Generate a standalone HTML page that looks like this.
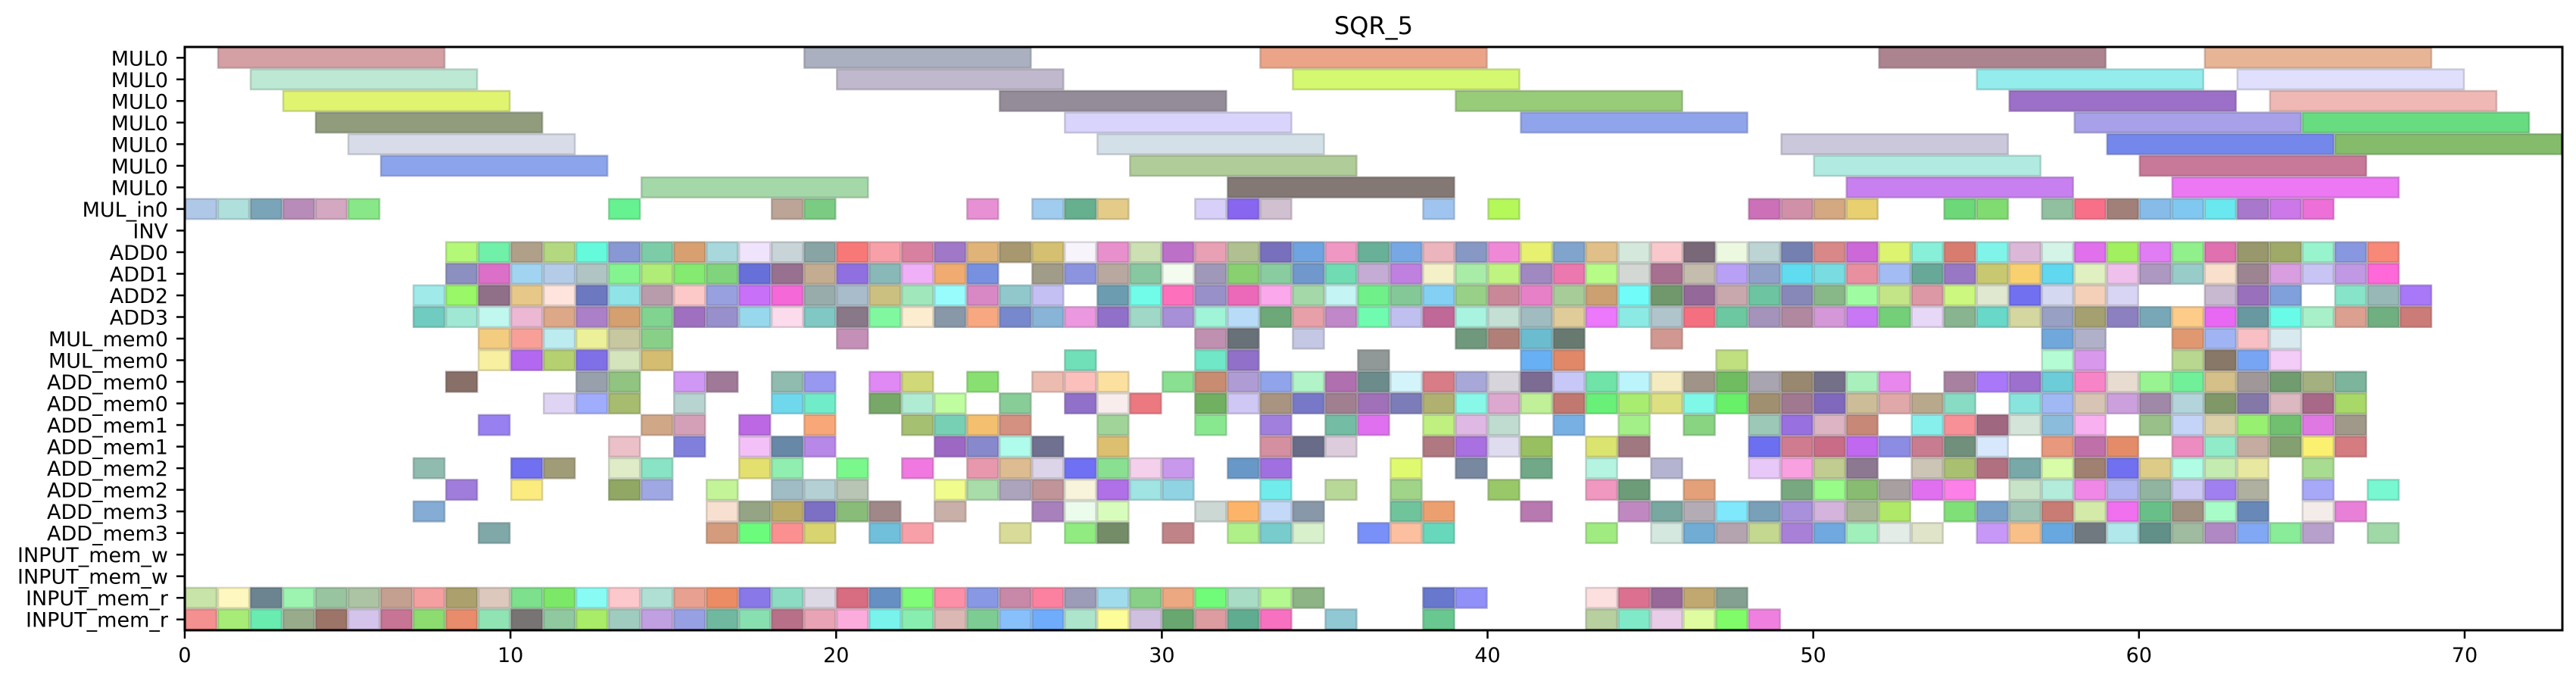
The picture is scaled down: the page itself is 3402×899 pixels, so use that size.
<!DOCTYPE html>
<html><head><meta charset="utf-8"><title>SQR_5</title>
<style>
html,body{margin:0;padding:0;background:#fff;}
svg{display:block;font-family:"DejaVu Sans","Liberation Sans",sans-serif;}
</style></head>
<body>
<svg id="chart" width="3402" height="899" viewBox="0 0 3402 899" xmlns="http://www.w3.org/2000/svg">
<text x="1814" y="45" font-size="32" text-anchor="middle" fill="#000">SQR_5</text>
<g id="marks"></g>
<g id="axes"></g>
</svg>
<script>
const rowLabels = ["MUL0","MUL0","MUL0","MUL0","MUL0","MUL0","MUL0","MUL_in0","INV","ADD0","ADD1","ADD2","ADD3","MUL_mem0","MUL_mem0","ADD_mem0","ADD_mem0","ADD_mem1","ADD_mem1","ADD_mem2","ADD_mem2","ADD_mem3","ADD_mem3","INPUT_mem_w","INPUT_mem_w","INPUT_mem_r","INPUT_mem_r"];
const xTicks = [0,10,20,30,40,50,60,70];
const xMax = 73;
const mulDuration = 7;
const cellDuration = 1;
// MUL0 long ops: "start:color"
const mulRows = [
"1:d4a0a4 19:aab0c0 33:eca488 52:ac8490 62:e8b496",
"2:bce8d4 20:c0b8cc 34:d4f870 55:94ecec 63:e0e0fc",
"3:e0f470 25:948c98 39:98cc78 56:9c70c8 64:f0b8b4",
"4:909c7c 27:d8d4fc 41:90a4ec 58:a8a0e8 65:68dc80",
"5:d8dce8 28:d4e0e8 49:ccc8dc 59:7488ec 66:84bc6c",
"6:8ca4ec 29:b0cc98 50:b0eae0 60:c87898",
"14:a4d8a8 32:847874 51:c880f0 61:ec78f4"
];
// unit ops per row (rows 7..26): "start:color"
const cellRows = [
"0:b0c8e8 1:b0e0dc 2:7aa4b8 3:b88cb8 4:d4a8c0 5:88e888 13:66f290 18:bca496 19:7acc82 24:e890d4 26:a0ccf0 27:66b090 28:e4cc88 31:d8d0f8 32:8866f0 33:d0c0d0 38:a0c4f0 40:b4f85a 48:cc70b8 49:d090a8 50:d4a880 51:e8d070 54:6cd878 55:80dc70 57:90c0a0 58:f87088 59:a08078 60:88bce8 61:80c8f0 62:6ae8f0 63:a878cc 64:cc78e8 65:ec70d8",
"",
"8:b4f878 9:70f0a8 10:b0a08a 11:b4d880 12:66fadc 13:8898d4 14:7ccca8 15:d8a070 16:a8d8dc 17:f0e4fc 18:c8d4d8 19:88a4a4 20:f87878 21:f8a0a8 22:d880a0 23:a078c8 24:e0b478 25:a89870 26:d4c070 27:f8f4fc 28:e890cc 29:cce0b4 30:bc70c8 31:e8a0b4 32:b0c090 33:7870bc 34:70a4e0 35:f098c4 36:68b098 37:78a8e4 38:ecb4bc 39:8898c4 40:f088d8 41:e8f070 42:80a4cc 43:e0c088 44:d4e8dc 45:f8c8cc 46:786878 47:ecf8e0 48:bcd4d4 49:7480b0 50:d88888 51:cc68d8 52:dcf470 53:88f0d8 54:d87c70 55:80f4e8 56:dcb8d8 57:d4f4e8 58:e070ec 59:a0f060 60:e07cf4 61:90f08c 62:e070b0 63:98986c 64:a0aa68 65:98f4cc 66:8898e0 67:f88878",
"8:8c90c0 9:dc70c8 10:a0d4f0 11:b4cce8 12:b0c4c4 13:84f490 14:b0ec78 15:84ea70 16:80d47c 17:6670d8 18:987090 19:c4ac90 20:9070e0 21:88b8b8 22:f0b0f8 23:f0ac70 24:7890e0 26:a09c88 27:8c94e0 28:b8a8a0 29:88c8a0 30:f4fcf0 31:a098b8 32:88d070 33:88cca0 34:7098cc 35:70dcb4 36:c4acd4 37:c080e0 38:f4f0c8 39:a8eca8 40:c0f480 41:a088c0 42:ec78b0 43:b8fc88 44:d4d8d4 45:a87090 46:c4bcac 47:b8a0f4 48:90a0c8 49:60dcf0 50:78dce0 51:e890a0 52:a4bcf4 53:68a898 54:9878c4 55:c8c870 56:f8d070 57:60d8f0 58:e0f0c0 59:f0c0ec 60:ac98c0 61:98ccc8 62:f8e0cc 63:9c8490 64:d89ee0 65:c8c4f4 66:c098e4 67:ff68d8",
"7:a0eaea 8:98f868 9:907088 10:e8c888 11:fee4dc 12:6c78c0 13:90e4e8 14:b89cac 15:fcc8c8 16:98a0e0 17:c870f8 18:f468d8 19:98acac 20:a8bccc 21:ccc080 22:a0e8bc 23:98fcfc 24:d888c4 25:90c8cc 26:c4c0f4 28:6c9cb0 29:70fce8 30:fc70bc 31:9890c8 32:ec68b8 33:fca8ec 34:a4d8a8 35:c4f4f4 36:70f088 37:84c898 38:84d0f4 39:98d088 40:c88898 41:e880c8 42:a8cc98 43:cca070 44:70fcf8 45:70986c 46:946898 47:c8a8ac 48:6cc4a0 49:8888b8 50:88b888 51:a0fca0 52:c4e488 53:dc98a4 54:ccf880 55:e0e8d0 56:7070f0 57:d4d8f0 58:f4d0b8 59:d8d4f4 62:c8b8d0 63:9870bc 64:80a0dc 66:88e4c8 67:98b8b8 68:a878f8",
"7:70ccc0 8:a0e8d4 9:c0f8f0 10:ecb8d4 11:dca888 12:ac80c8 13:d4a070 14:80d490 15:a070c0 16:9890cc 17:98d8ec 18:fcdcec 19:80c8c4 20:887888 21:80f8a0 22:fcecd0 23:8898a8 24:f8a880 25:7888cc 26:88b4d8 27:ec98e0 28:9070c8 29:a0d8c8 30:a890d8 31:a0f4d8 32:b8dcf8 33:6ca878 34:e8a0a8 35:c088c8 36:70fcb0 37:c0c0f0 38:c06898 39:a8f4e0 40:c4e0d4 41:a0bcc0 42:e0cc98 43:ec78fc 44:8ceae4 45:b0c4cc 46:f47080 47:6cc8a0 48:a494bc 49:b088a0 50:d498d8 51:c878f4 52:74d078 53:e8d8f8 54:88b490 55:68d8c8 56:d4d8a0 57:98a0c4 58:a4a070 59:8c80c0 60:78a8b8 61:fccc88 62:e868f4 63:6898a0 64:68fce8 65:a8f0c8 66:dca090 67:70b080 68:cc7c78",
"9:f4cc80 10:f8a098 11:bcecf0 12:ecf098 13:c8c8a0 14:88d088 20:c490b8 31:c090b0 32:687078 34:c4c8e4 39:70987c 40:b08078 41:6cbcd0 42:687a70 45:d09890 57:70a8dc 58:b0b0c8 61:e09870 62:a0b4f4 63:f8c0c4 64:d8eaf0",
"9:f8f0a0 10:b468f0 11:b4d070 12:8070e8 13:d4e4bc 14:d4bc70 27:70e0b8 31:70e8c8 32:9070c8 36:909898 41:68b0f4 42:e08868 47:c0e080 57:b4fcd4 58:d898ec 61:b8d890 62:887868 63:78a4f4 64:f4ccf8",
"8:887068 12:98a0ac 13:90c480 15:d098f4 16:a07898 18:90bcb0 19:9898f0 21:e088f4 22:d0d878 24:88e070 26:ecbcb0 27:fcc0bc 28:fce0a0 30:88e090 31:c88c70 32:b09cd4 33:90a4ec 34:b0f4c8 35:b070b0 36:6c8c8c 37:d4f4fc 38:d87c88 39:a8a8d8 40:d8d4dc 41:7c6c94 42:c8c8f8 43:70e4a8 44:bcf4fc 45:f4ecc0 46:a09488 47:70bc60 48:a8a4b0 49:988870 50:747088 51:a8f0bc 52:e888ec 54:a880a0 55:a878f8 56:9c70cc 57:6cccd8 58:f884c8 59:e8dcd0 60:98f490 61:70f098 62:d4c088 63:a09898 64:709c70 65:a4b080 66:7cb49c",
"11:e0d4f4 12:a0acfc 13:a8bc70 15:b8d4d0 18:70d8ec 19:70ecc8 21:78a868 22:b0ecd4 23:c0fca0 25:88cc98 27:9070c8 28:f8ecec 29:ec7880 31:70b060 32:d0c8f4 33:a89480 34:7878c8 35:a08090 36:a070b8 37:7c7cb8 38:b0b070 39:88f8e8 40:dca8d0 41:c0f098 42:c07870 43:68f078 44:a8ec70 45:dce080 46:80f8e8 47:68f068 48:a09070 49:a07890 50:8068bc 51:ccbc98 52:e0a8a8 53:b8a88c 54:88dcc4 56:88e4dc 57:a0b8f4 58:d8c4b4 59:cca0dc 60:a088a8 61:b4d4dc 62:809868 63:8478a8 64:dcb8c0 65:a86888 66:a8d868",
"9:9880f0 14:d0a888 15:d4a0b8 17:bc68e4 19:f8a878 22:a4c070 23:78d0b4 24:f4c070 25:d49080 28:a0d498 31:88e890 33:a080dc 35:74bca4 36:e070f0 38:c0f080 39:e0b8e4 40:c0dcd0 42:78b0e4 44:a4f088 46:88d480 48:9cc8b8 49:9870e0 50:dcb4c4 51:c88878 53:88f0ec 54:f89098 55:a06880 56:d4e4d8 57:8cbcdc 58:f8b0f0 60:98c088 61:c4d4f8 62:dcd0a8 63:98f070 64:70c070 65:e078e4 66:a09888",
"13:ecc0c8 15:8080dc 17:f4c0f8 18:6888a8 19:b888e8 23:9c68c4 24:8888cc 25:b0fcec 26:707090 28:dcc070 33:d490a0 34:686c88 35:dcccdc 38:b07880 39:a870e0 40:e0dcf0 41:98c060 43:dce470 44:a07880 48:6c70f0 49:d07c90 50:c86c88 51:c068f0 52:8c8ce4 53:c87c90 54:70907c 55:d8e8fc 57:e8987c 58:c070a8 59:e48c68 61:ec8cc0 62:90ecc8 63:c4aca0 64:84a070 65:fcf070 66:d47c80",
"7:90bcb0 10:7070f0 11:a09c78 13:e0ecc8 14:88e4c4 17:e4e070 18:90eeb0 20:7af88c 22:f078e0 24:e898ac 25:dcbc90 26:dcd4e8 27:7070f4 28:88e090 29:f4d0ec 30:c898ec 32:6898c8 33:a070e0 37:e0fa70 39:7888a0 41:70a888 43:b4f4e0 45:b4b4d0 48:e8c8f8 49:f8a0e0 50:c0cc90 51:8c7890 53:ccc4b4 54:a8c070 55:b07080 56:78a8a8 57:d8fca8 58:a08070 59:7070f0 60:dccc88 61:b0fce4 62:c4ecb0 63:e8e8a0 65:a8dc90",
"8:a07cdc 10:fcec80 13:90a864 14:a0a8e4 16:c4f498 18:a0bcc4 19:b4d0d4 20:b8c4b4 23:f0fc8c 24:a8dca8 25:aca4bc 26:c09498 27:f8f4dc 28:b070e8 29:a0e4e4 30:90d4e4 33:70ecec 35:b8d898 37:a0d488 40:98c868 43:f098c0 44:6c9c78 46:e4a078 49:78a880 50:98fc88 51:88bc70 52:a8a0a0 53:e070f0 54:fc80e8 56:c8e4c8 57:b4ecdc 58:f088e8 59:b0b4f0 60:90b4a0 61:ccc8f4 62:a080f0 63:b0b0a0 65:a8a8f8 67:78f8d0",
"7:84acd4 16:f8e0d0 17:94a484 18:bcac68 19:7c70c4 20:88bc78 21:a08888 23:c8b0a8 26:a880bc 27:ecfcec 28:d8fcbc 31:ccd8d4 32:fcb468 33:c4d8f8 34:8898a8 37:70c49c 38:eca070 41:b878b0 44:c088c0 45:78a8a0 46:b4acb4 47:80e8fc 48:78a0b8 49:a890dc 50:d4b4dc 51:a8b498 52:b0e868 54:80e078 55:78a0c8 56:a0c4b4 57:c87c74 58:d4eaa8 59:f070f0 60:68c088 61:a09080 62:a8fcc8 63:6888b8 65:f4ece8 66:e880d8",
"9:80a8a8 16:d49c7c 17:6cfc7c 18:fc9090 19:d8d470 21:70c0dc 22:f8a0a8 25:d8dc98 27:90ec80 28:748c68 30:c08488 32:b0f088 33:78cccc 34:d8f0cc 36:7890f8 37:fcc0a0 38:68d8bc 43:a0ec80 45:d4e8e0 46:70acd4 47:b4a4b0 48:c4d890 49:a880d8 50:70a8e0 51:a0f0bc 52:e4ece8 53:e0e4c8 55:c898f8 56:f8c088 57:68a8e0 58:707880 59:b0e8ec 60:609088 61:a0bca0 62:b088c4 63:80a8f4 64:88ec98 65:b8a0cc 67:a0d8a8",
"",
"",
"0:c8e4a8 1:fef8c0 2:6c8490 3:9cf4b0 4:98c4a0 5:acc4a4 6:c4a090 7:f4a0a0 8:aca06c 9:dcc8bc 10:7ce08c 11:7ce868 12:88fcf4 13:fcc8cc 14:b0e0d4 15:e8a090 16:ec8c64 17:8878e8 18:8cdcc4 19:dcd8e4 20:d86c80 21:6690c4 22:80fc78 23:fc90a8 24:8898e4 25:c888a8 26:fc80a0 27:9c9cb8 28:a0dcec 29:88d088 30:eca880 31:70fc78 32:a8dcc4 33:b4f890 34:8cb484 38:6878cc 39:9090f8 43:fce0e0 44:dc7090 45:986898 46:c0a870 47:84a090",
"0:f49090 1:a8ec78 2:68ecb0 3:98ac8c 4:9c7468 5:d4c4ec 6:c87494 7:8cdc70 8:e88c6c 9:90e4b4 10:787474 11:90c8a0 12:a8ec68 13:a0ccc0 14:c0a0e0 15:98a0e4 16:70b8a0 17:88e0b0 18:b87088 19:e8a4b4 20:fcacdc 21:78f4ec 22:88eeb0 23:dcb8b4 24:7ccc94 25:88c0fc 26:70acfc 27:ace4cc 28:fcfc98 29:d0c0e0 30:68a870 31:dc9ca0 32:60ac90 33:f870c0 35:90c8d4 38:68c890 43:b8d0a0 44:80eac8 45:e8cce8 46:e0fca0 47:80fc68 48:f080e0"
];

const PL = 244, PR = 3384, PT = 62, PB = 832;
const rowH = (PB - PT) / rowLabels.length;
function xScale(t){ return PL + (PR - PL) * t / xMax; }
function yTop(r){ return PT + rowH * r; }
function darker(hex){
  const n = parseInt(hex,16);
  const r = Math.round(((n>>16)&255)*0.75), g = Math.round(((n>>8)&255)*0.75), b = Math.round((n&255)*0.75);
  return "rgb("+r+","+g+","+b+")";
}
const NS = "http://www.w3.org/2000/svg";
const marks = document.getElementById("marks");
const axes = document.getElementById("axes");
function addBar(row, start, dur, color, name){
  const rect = document.createElementNS(NS, "rect");
  const x0 = xScale(start), x1 = xScale(Math.min(start + dur, xMax));
  rect.setAttribute("x", x0 + 1);
  rect.setAttribute("y", yTop(row) + 1);
  rect.setAttribute("width", Math.max(0, x1 - x0 - 2));
  rect.setAttribute("height", rowH - 2);
  rect.setAttribute("fill", "#" + color);
  rect.setAttribute("stroke", darker(color));
  rect.setAttribute("stroke-opacity", "0.55");
  rect.setAttribute("stroke-width", "2.5");
  
  
  marks.appendChild(rect);
}
function parseRow(s){
  return s.trim() ? s.trim().split(/\s+/).map(p => { const [a,c] = p.split(":"); return [parseFloat(a), c]; }) : [];
}
mulRows.forEach((s, r) => parseRow(s).forEach(([t,c]) => addBar(r, t, mulDuration, c, "mul0-op-bar")));
cellRows.forEach((s, i) => parseRow(s).forEach(([t,c]) => addBar(i + 7, t, cellDuration, c, "op-cell")));

// frame
const frame = document.createElementNS(NS, "rect");
frame.setAttribute("x", PL); frame.setAttribute("y", PT);
frame.setAttribute("width", PR - PL); frame.setAttribute("height", PB - PT);
frame.setAttribute("fill", "none"); frame.setAttribute("stroke", "#000"); frame.setAttribute("stroke-width", "3");


axes.appendChild(frame);

// y ticks and labels
rowLabels.forEach((lab, r) => {
  const yc = yTop(r) + rowH / 2;
  const tk = document.createElementNS(NS, "line");
  tk.setAttribute("x1", PL - 11); tk.setAttribute("x2", PL);
  tk.setAttribute("y1", yc); tk.setAttribute("y2", yc);
  tk.setAttribute("stroke", "#000"); tk.setAttribute("stroke-width", "2.5");
  
  
  axes.appendChild(tk);
  const tx = document.createElementNS(NS, "text");
  tx.setAttribute("x", PL - 22); tx.setAttribute("y", yc + 10);
  tx.setAttribute("text-anchor", "end"); tx.setAttribute("font-size", "27");
  tx.textContent = lab;
  
  
  axes.appendChild(tx);
});
// x ticks and labels
xTicks.forEach(v => {
  const x = xScale(v);
  const tk = document.createElementNS(NS, "line");
  tk.setAttribute("x1", x); tk.setAttribute("x2", x);
  tk.setAttribute("y1", PB); tk.setAttribute("y2", PB + 11);
  tk.setAttribute("stroke", "#000"); tk.setAttribute("stroke-width", "2.5");
  
  
  axes.appendChild(tk);
  const tx = document.createElementNS(NS, "text");
  tx.setAttribute("x", x); tx.setAttribute("y", PB + 42);
  tx.setAttribute("text-anchor", "middle"); tx.setAttribute("font-size", "27");
  tx.textContent = String(v);
  
  
  axes.appendChild(tx);
});
</script>
</body></html>
